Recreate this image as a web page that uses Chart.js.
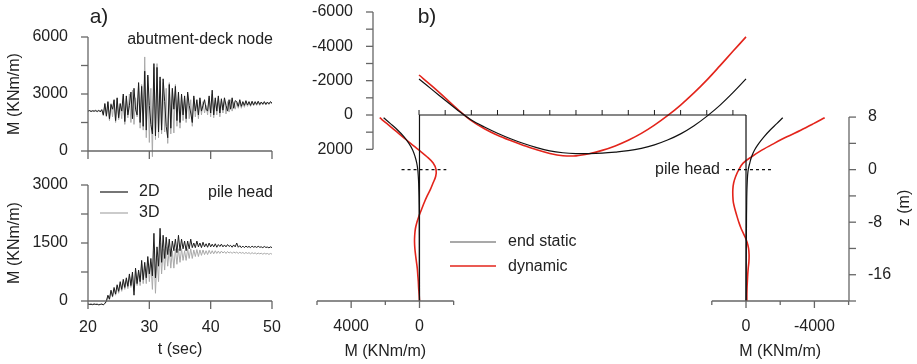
<!DOCTYPE html>
<html>
<head>
<meta charset="utf-8">
<script src="https://cdn.jsdelivr.net/npm/chart.js@4"></script>
<style>
  html, body { margin: 0; padding: 0; background: #fff; }
  #wrap { position: relative; width: 917px; height: 364px; }
  canvas { position: absolute; left: 0; top: 0; }
</style>
</head>
<body>
<div id="wrap">
  <canvas id="deckNode" width="917" height="364"></canvas>
  <canvas id="pileHead" width="917" height="364"></canvas>
  <canvas id="frame" width="917" height="364"></canvas>
</div>
<script>
// ---- a) moment time histories, one sample every 0.25 s from t = 20 s
const T_START = 20;
const T_STEP = 0.25;
const timeTicks = [20, 30, 40, 50];

const deck2D = [2100, 2130, 2080, 2120, 2090, 2140, 2070, 2150, 2060, 2180,
  1900, 2500, 1850,
  2600, 1700, 2450, 2200, 2700, 1600, 2800, 1750, 2500, 2100, 3000, 1550,
  2900, 1900, 2400, 3100, 1700, 3300, 2200, 1900, 3600, 1500, 3400, 1300,
  4200, 1100, 4000, 2400, 1400, 900, 4600, 800, 4400, 1000, 3900, 1100,
  3800, 2600, 1300, 700, 3500, 1200, 3300, 2200, 3400, 1600, 3100, 1500,
  3000, 1900, 2900, 1700, 3100, 2400, 2000, 1500, 2900, 2100, 2700, 1900,
  2800, 2100, 2400, 2700, 2200, 2100, 2900, 2000, 3200, 1900, 2800, 2100,
  2900, 2000, 2750, 2150, 2800, 2400, 2100, 2700, 2200, 2800, 2250, 2650,
  2600, 2350, 2700, 2350, 2600, 2400, 2650, 2420, 2600, 2400, 2620, 2430,
  2600, 2450, 2620, 2450, 2580, 2470, 2600, 2460, 2580, 2480, 2600, 2520];

const deck3D = [2100, 2110, 2100, 2100, 2120, 2090, 2110, 2100, 2100, 2150,
  1850, 2450, 1800,
  2550, 1600, 2500, 1800, 2650, 1500, 2750, 1650, 2450, 1700, 2900, 1400,
  2800, 1750, 3000, 1500, 3200, 1400, 2800, 1800, 3500, 1200, 3500, 1100,
  4950, 700, 3900, 450, 3300, -300, 4400, 600, 4600, 700, 3700, 900,
  3600, 1000, 3300, 400, 3600, 900, 3200, 950, 3500, 1300, 3000, 1200,
  2900, 1600, 2800, 1500, 3000, 1700, 2700, 1300, 2800, 1800, 2600, 1700,
  2700, 1900, 2600, 2000, 2400, 1900, 2800, 1800, 3000, 1750, 2700, 1900,
  2800, 1800, 2650, 2000, 2700, 1950, 2600, 2050, 2700, 2100, 2550, 2200,
  2550, 2250, 2600, 2250, 2550, 2300, 2600, 2350, 2550, 2350, 2580, 2380,
  2550, 2400, 2580, 2400, 2550, 2420, 2560, 2420, 2550, 2440, 2560, 2470];

const head2D = [-80, -90, -85, -95, -80, -90, -85, -100, -90, -80,
  -100, -60, 0,
  150, 50, 280, 120, 350, 180, 420, 250, 500, 300, 560, 350,
  600, 380, 700, 400, 750, 150, 850, 450, 800, 500, 1050, 550,
  1000, 600, 1150, 700, 1100, 650, 1750, 600, 1400, 900, 1880, 1000,
  1700, 1100, 1650, 1200, 1600, 1150, 1550, 1300, 1600, 1250, 1700, 1300,
  1600, 1350, 1550, 1300, 1550, 1350, 1600, 1380, 1500, 1380, 1550, 1400,
  1500, 1380, 1520, 1400, 1480, 1390, 1500, 1400, 1470, 1400, 1480, 1390,
  1460, 1410, 1470, 1400, 1450, 1400, 1460, 1410, 1440, 1390, 1450, 1400,
  1500, 1390, 1430, 1380, 1420, 1380, 1420, 1390, 1410, 1380, 1420, 1390,
  1410, 1385, 1415, 1390, 1400, 1380, 1410, 1385, 1395, 1375, 1400, 1380];

const head3D = [-70, -80, -75, -85, -75, -80, -80, -90, -85, -80,
  -95, -70, -20,
  120, 30, 250, 100, 300, 150, 380, 200, 450, 250, 500, 300,
  550, 320, 650, 350, 700, 250, 800, 400, 750, 400, 950, 450,
  900, 450, 1050, 500, 1000, 300, 1300, 200, 1100, 500, 1500, 700,
  1350, 800, 1400, 900, 1350, 850, 1300, 850, 1350, 950, 1350, 1000,
  1350, 1050, 1300, 1050, 1350, 1100, 1350, 1100, 1320, 1150, 1330, 1150,
  1320, 1180, 1320, 1200, 1300, 1200, 1310, 1220, 1300, 1220, 1300, 1230,
  1290, 1230, 1290, 1240, 1280, 1230, 1280, 1240, 1270, 1230, 1270, 1240,
  1265, 1230, 1260, 1235, 1255, 1225, 1255, 1230, 1250, 1220, 1250, 1225,
  1245, 1215, 1240, 1220, 1235, 1210, 1235, 1215, 1230, 1205, 1230, 1210];

// ---- b) bending moment along the deck (position in m from the left end)
const deckX = [0, 1, 2, 3, 4, 5, 6, 7, 8, 9, 10, 11, 12, 13, 14, 15, 16, 17, 18, 19, 20, 21, 22, 23, 24, 25];
const deckStatic = [-2100, -1480, -860, -250, 290, 700, 1060, 1380, 1660, 1900, 2090, 2200, 2250,
  2250, 2220, 2160, 2080, 1940, 1740, 1460, 1100, 640, 80, -560, -1300, -2100];
const deckDynamic = [-2330, -1680, -1000, -300, 330, 800, 1180, 1490, 1770, 2030, 2240, 2370, 2380,
  2260, 2060, 1800, 1470, 1070, 590, 40, -580, -1270, -2030, -2860, -3710, -4550];
const deckSpan = [0, 25];
const deckTicks = [0, 2, 4, 6, 8, 10, 12, 14, 16, 18, 20, 22, 24];

// ---- b) pile moments against depth z (m), pile head at z = 0
const pileZ = [7.9, 7, 6, 5, 4, 3, 2, 1, 0, -1, -2, -3, -4, -5, -6, -7, -8, -9, -10,
  -11, -12, -13, -14, -15, -16, -17, -18, -19, -20];
const leftStatic = [2100, 1700, 1270, 900, 620, 400, 260, 160, 100, 70, 50, 40, 30, 25, 20,
  18, 15, 13, 12, 10, 9, 8, 7, 6, 5, 4, 3, 2, 0];
const leftDynamic = [2330, 1900, 1450, 980, 520, 40, -420, -800, -970, -950, -800, -640, -450,
  -280, -130, 20, 150, 240, 280, 290, 270, 230, 180, 130, 100, 70, 50, 20, 0];
const rightStatic = [-2150, -1800, -1400, -1050, -750, -500, -330, -220, -130, -90, -70, -55,
  -45, -40, -35, -30, -28, -25, -22, -20, -18, -16, -14, -12, -10, -8, -6, -4, 0];
const rightDynamic = [-4600, -3950, -3200, -2390, -1650, -950, -350, 170, 420, 600, 720, 770,
  770, 740, 650, 540, 420, 280, 100, -60, -150, -180, -170, -130, -100, -80, -60, -50, -50];
const pileTop = 8.3;
const pileBottom = -20;
const headMarkLeft = [1050, -1570];
const headMarkRight = [1170, -1460];

const deckAxisTicks = [-6000, -5000, -4000, -3000, -2000, -1000, 0, 1000, 2000];
const deckAxisLabels = [-6000, -4000, -2000, 0, 2000];
const zTicks = [8, 4, 0, -4, -8, -12, -16, -20];
const zLabels = [8, 0, -8, -16];
const leftBottomTicks = [6000, 4000, 2000, 0, -2000];
const leftBottomLabels = [4000, 0];
const rightBottomTicks = [2000, 0, -2000, -4000, -6000];
const rightBottomLabels = [0, -4000];

const FONT = '"Liberation Sans", Arial, Helvetica, sans-serif';
const INK = '#222';
const AXIS = '#666';
const RED = '#e3241b';
const DARK = '#1c1c1c';
const GREY = '#a9a9a9';

function seg(ctx, x1, y1, x2, y2, color, w, dash) {
  ctx.save();
  ctx.strokeStyle = color;
  ctx.lineWidth = w || 1;
  ctx.setLineDash(dash || []);
  ctx.beginPath();
  ctx.moveTo(x1, y1);
  ctx.lineTo(x2, y2);
  ctx.stroke();
  ctx.restore();
}

function label(ctx, s, x, y, align, size, rot) {
  ctx.save();
  ctx.font = (size || 16) + 'px ' + FONT;
  ctx.fillStyle = INK;
  ctx.textAlign = align || 'center';
  ctx.textBaseline = 'middle';
  ctx.translate(x, y);
  if (rot) ctx.rotate(rot);
  ctx.fillText(s, 0, 0);
  ctx.restore();
}

function series(values) {
  return values.map((v, i) => ({ x: T_START + i * T_STEP, y: v }));
}

function profile(xs, ys) {
  return xs.map((v, i) => ({ x: v, y: ys[i] }));
}

// axes of the two time-history plots
const timeAxes = {
  id: 'timeAxes',
  afterDraw(chart, args, o) {
    const { ctx, scales: { x, y } } = chart;
    const x0 = x.getPixelForValue(timeTicks[0]);
    const y0 = y.getPixelForValue(0);
    const yTop = y.getPixelForValue(o.yMax);
    seg(ctx, x0, yTop, x0, y0, AXIS, 1.3);
    o.yTicks.forEach(v => {
      const py = y.getPixelForValue(v);
      seg(ctx, x0 - 7, py, x0, py, AXIS, 1.3);
    });
    o.yTicks.filter((v, i) => i % 2 === 0).forEach(v => {
      label(ctx, String(v), x0 - 20, y.getPixelForValue(v), 'right');
    });
    seg(ctx, x0, y0, x.getPixelForValue(timeTicks[timeTicks.length - 1]), y0, AXIS, 1.3);
    timeTicks.forEach(t => {
      const px = x.getPixelForValue(t);
      seg(ctx, px, y0, px, y0 + 8, AXIS, 1.3);
      if (o.xLabels) label(ctx, String(t), px, y0 + 27);
    });
    if (o.xLabels) label(ctx, 't (sec)', (x.left + x.right) / 2, y0 + 49);
    label(ctx, 'M (KNm/m)', 15, (y0 + yTop) / 2, 'center', 16, -Math.PI / 2);
    label(ctx, o.title, x.right + 1, o.titleY, 'right');
    if (o.panel) label(ctx, o.panel, 99, 17, 'center', 21);
    if (o.legend) {
      seg(ctx, 100, 192, 128, 192, DARK, 1.2);
      seg(ctx, 100, 213, 128, 213, GREY, 1.2);
      label(ctx, '2D', 139, 192, 'left');
      label(ctx, '3D', 139, 213, 'left');
    }
  }
};

function timeChart(id, d2, d3, yMax, pad, opts) {
  return new Chart(document.getElementById(id), {
    type: 'scatter',
    data: {
      datasets: [
        { data: series(d2), borderColor: DARK, borderWidth: 1, showLine: true, pointRadius: 0, clip: false },
        { data: series(d3), borderColor: GREY, borderWidth: 1, showLine: true, pointRadius: 0, clip: false }
      ]
    },
    options: {
      responsive: false,
      animation: false,
      devicePixelRatio: 1,
      layout: { padding: pad },
      scales: {
        x: { type: 'linear', display: false, bounds: 'data', min: 20, max: 50 },
        y: { type: 'linear', display: false, bounds: 'data', min: 0, max: yMax }
      },
      plugins: { legend: { display: false }, tooltip: { enabled: false }, timeAxes: opts }
    },
    plugins: [timeAxes]
  });
}

timeChart('deckNode', deck2D, deck3D, 6000,
  { left: 88, right: 645, top: 37, bottom: 213 },
  { yMax: 6000, yTicks: [0, 1500, 3000, 4500, 6000], xLabels: false,
    title: 'abutment-deck node', titleY: 40, panel: 'a)' });

timeChart('pileHead', head2D, head3D, 3000,
  { left: 88, right: 645, top: 185, bottom: 63 },
  { yMax: 3000, yTicks: [0, 750, 1500, 2250, 3000], xLabels: true,
    title: 'pile head', titleY: 193, legend: true });

// axes, ticks and texts of the frame diagram
const frameAxes = {
  id: 'frameAxes',
  afterDraw(chart) {
    const { ctx, scales: { xDeck, xL, xR, yM, yZ } } = chart;
    // deck moment axis
    const ax = 373;
    seg(ctx, ax, yM.getPixelForValue(-6000), ax, yM.getPixelForValue(2000), AXIS, 1.3);
    deckAxisTicks.forEach(v => {
      const py = yM.getPixelForValue(v);
      seg(ctx, ax - 7, py, ax, py, AXIS, 1.3);
    });
    deckAxisLabels.forEach(v => label(ctx, String(v), ax - 20, yM.getPixelForValue(v), 'right'));
    // ticks along the deck
    const yd = yM.getPixelForValue(0);
    deckTicks.forEach(d => {
      const px = xDeck.getPixelForValue(d);
      seg(ctx, px, yd, px, yd - 5, DARK, 1);
    });
    // depth axis
    const zx = 849;
    seg(ctx, zx, yZ.getPixelForValue(8), zx, yZ.getPixelForValue(-20), AXIS, 1.3);
    zTicks.forEach(v => {
      const py = yZ.getPixelForValue(v);
      seg(ctx, zx, py, zx + 7, py, AXIS, 1.3);
    });
    zLabels.forEach(v => label(ctx, String(v), 868, yZ.getPixelForValue(v), 'left'));
    label(ctx, 'z (m)', 905, 208, 'center', 16, -Math.PI / 2);
    // bottom moment axes of the two piles
    const yb = yZ.getPixelForValue(-20);
    [[xL, leftBottomTicks, leftBottomLabels], [xR, rightBottomTicks, rightBottomLabels]].forEach(([sc, ticks, labs]) => {
      seg(ctx, sc.getPixelForValue(ticks[0]), yb, sc.getPixelForValue(ticks[ticks.length - 1]), yb, AXIS, 1.3);
      ticks.forEach(v => {
        const px = sc.getPixelForValue(v);
        seg(ctx, px, yb, px, yb + (labs.includes(v) ? 7 : 4), AXIS, 1.3);
      });
      labs.forEach(v => label(ctx, String(v), sc.getPixelForValue(v), yb + 26));
      label(ctx, 'M (KNm/m)', sc.getPixelForValue(labs[0] === 0 ? -2000 : 2000), yb + 51);
    });
    // texts and legend
    label(ctx, 'b)', 427, 17, 'center', 21);
    label(ctx, 'pile head', 720, yZ.getPixelForValue(0), 'right');
    seg(ctx, 450, 242, 496, 242, '#555', 1.2);
    seg(ctx, 450, 266, 496, 266, RED, 1.4);
    label(ctx, 'end static', 508, 242, 'left');
    label(ctx, 'dynamic', 508, 267, 'left');
  }
};

function curve(data, xAxisID, yAxisID, color, width, extra) {
  return Object.assign({
    data, xAxisID, yAxisID, borderColor: color, borderWidth: width,
    showLine: true, pointRadius: 0, tension: 0.35, clip: false
  }, extra || {});
}

new Chart(document.getElementById('frame'), {
  type: 'scatter',
  data: {
    datasets: [
      // frame
      curve(deckSpan.map(d => ({ x: d, y: 0 })), 'xDeck', 'yM', '#111', 1.2, { tension: 0 }),
      curve([{ x: 0, y: pileTop }, { x: 0, y: pileBottom }], 'xL', 'yZ', '#111', 1.2, { tension: 0 }),
      curve([{ x: 0, y: pileTop }, { x: 0, y: pileBottom }], 'xR', 'yZ', '#111', 1.2, { tension: 0 }),
      curve(headMarkLeft.map(m => ({ x: m, y: 0 })), 'xL', 'yZ', '#111', 1.2, { tension: 0, borderDash: [3, 3] }),
      curve(headMarkRight.map(m => ({ x: m, y: 0 })), 'xR', 'yZ', '#111', 1.2, { tension: 0, borderDash: [3, 3] }),
      // end static
      curve(profile(deckX, deckStatic), 'xDeck', 'yM', '#111', 1.2),
      curve(profile(leftStatic, pileZ), 'xL', 'yZ', '#111', 1.2),
      curve(profile(rightStatic, pileZ), 'xR', 'yZ', '#111', 1.2),
      // dynamic
      curve(profile(deckX, deckDynamic), 'xDeck', 'yM', RED, 1.6),
      curve(profile(leftDynamic, pileZ), 'xL', 'yZ', RED, 1.6),
      curve(profile(rightDynamic, pileZ), 'xR', 'yZ', RED, 1.6)
    ]
  },
  options: {
    responsive: false,
    animation: false,
    devicePixelRatio: 1,
    layout: { padding: { left: 317, right: 68, top: 12, bottom: 63 } },
    scales: {
      xDeck: { type: 'linear', axis: 'x', display: false, bounds: 'data', min: -7.8, max: 32.875 },
      xL: { type: 'linear', axis: 'x', display: false, bounds: 'data', reverse: true, min: -25146, max: 6000 },
      xR: { type: 'linear', axis: 'x', display: false, bounds: 'data', reverse: true, min: -6023, max: 25088 },
      yM: { type: 'linear', axis: 'y', display: false, bounds: 'data', reverse: true, min: -6000, max: 10835 },
      yZ: { type: 'linear', axis: 'y', display: false, bounds: 'data', min: -20, max: 24 }
    },
    plugins: { legend: { display: false }, tooltip: { enabled: false } }
  },
  plugins: [frameAxes]
});
</script>
</body>
</html>
